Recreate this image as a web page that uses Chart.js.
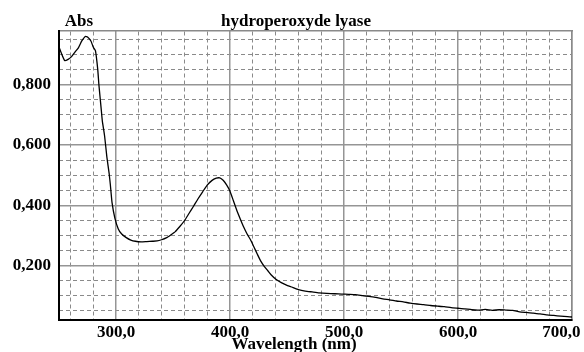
<!DOCTYPE html>
<html>
<head>
<meta charset="utf-8">
<script src="https://cdn.jsdelivr.net/npm/chart.js@4/dist/chart.umd.min.js"></script>
<style>
  html, body { margin: 0; padding: 0; background: #fff; }
  #wrap { width: 584px; height: 352px; }
</style>
</head>
<body>
<div id="wrap"><canvas id="spectrum" width="584" height="352"></canvas></div>
<script>
const chartTitle = 'hydroperoxyde lyase';
const yTitle = 'Abs';
const xTitle = 'Wavelength (nm)';

// wavelength (nm) / absorbance
const wavelengths = [
  250, 252, 255, 258, 261, 264, 267, 270, 273, 275, 278, 280, 282, 284, 285, 287, 288, 290,
  292, 294, 295, 296.5, 299, 302, 305, 309, 313, 317, 322, 327, 332, 336, 340, 344, 348,
  352, 356, 360, 364, 368, 372, 376, 380, 384, 388, 391, 394, 397, 400, 403, 406, 409,
  412, 415, 418, 421, 424, 427, 430, 433, 436, 440, 445, 450, 455, 460, 466, 472, 478,
  485, 492, 498, 504, 510, 516, 522, 528, 534, 540, 546, 552, 558, 564, 570, 576, 582,
  588, 594, 600, 606, 612, 618, 624, 630, 636, 642, 648, 654, 660, 666, 672, 678, 684,
  690, 696, 700
];
const absorbance = [
  0.925, 0.905, 0.880, 0.884, 0.893, 0.908, 0.922, 0.945, 0.960, 0.958, 0.945, 0.925, 0.912, 0.850, 0.800, 0.720, 0.680, 0.630,
  0.560, 0.505, 0.470, 0.410, 0.358, 0.322, 0.305, 0.293, 0.285, 0.281, 0.279, 0.280, 0.281, 0.282, 0.286, 0.292, 0.302,
  0.313, 0.330, 0.349, 0.373, 0.397, 0.422, 0.445, 0.467, 0.482, 0.490, 0.491, 0.483, 0.468, 0.447, 0.415, 0.383, 0.355,
  0.328, 0.305, 0.286, 0.262, 0.238, 0.215, 0.198, 0.184, 0.170, 0.156, 0.144, 0.135, 0.128, 0.121, 0.116, 0.113, 0.110,
  0.108, 0.107, 0.106, 0.105, 0.104, 0.101, 0.098, 0.095, 0.090, 0.087, 0.083, 0.080, 0.076, 0.073, 0.071, 0.068, 0.066,
  0.064, 0.061, 0.059, 0.057, 0.054, 0.053, 0.055, 0.052, 0.054, 0.053, 0.052, 0.047, 0.045, 0.043, 0.040, 0.037, 0.035,
  0.033, 0.031, 0.030
];

const xMajor = [300, 400, 500, 600, 700];
const xMinor = [260, 280, 320, 340, 360, 380, 420, 440, 460, 480, 520, 540, 560, 580, 620, 640, 660, 680];
const yMajor = [0.2, 0.4, 0.6, 0.8];
const yMinor = [0.05, 0.1, 0.15, 0.25, 0.3, 0.35, 0.45, 0.5, 0.55, 0.65, 0.7, 0.75, 0.85, 0.9, 0.95];

const labelFont = { family: '"Liberation Serif", "Times New Roman", serif', size: 17, weight: 'bold' };

function setTicks(list) {
    return function (scale) {
        scale.ticks = list.map(v => ({ value: v }));
    };
}

function minorAxis(position, list, min, max) {
    return {
        type: 'linear',
        position: position,
        min: min,
        max: max,
        afterBuildTicks: setTicks(list),
        afterFit: function (scale) {
            if (scale.isHorizontal()) { scale.height = 0; } else { scale.width = 0; }
            scale.paddingLeft = scale.paddingRight = scale.paddingTop = scale.paddingBottom = 0;
        },
        ticks: { display: false },
        grid: { color: '#8a8a8a', lineWidth: 1, drawTicks: false },
        border: { display: true, color: '#8a8a8a', width: 1.5, dash: [4, 3] }
    };
}

const textPlugin = {
    id: 'textPlugin',
    afterDraw(chart) {
        const ctx = chart.ctx;
        const area = chart.chartArea;
        ctx.save();
        ctx.fillStyle = '#000';
        ctx.font = 'bold 17px "Liberation Serif", serif';
        ctx.textAlign = 'center';
        ctx.textBaseline = 'alphabetic';
        ctx.fillText(yTitle, area.left + 20, 26);
        ctx.fillText(chartTitle, 296, 26);
        ctx.fillText(xTitle, 294, 349);
        ctx.restore();
    }
};

function drawSpectrum() {
    const ctx = document.getElementById('spectrum').getContext('2d');
    const points = wavelengths.map((w, i) => ({ x: w, y: absorbance[i] }));
    new Chart(ctx, {
        type: 'line',
        data: {
            datasets: [{
                data: points,
                borderColor: '#000',
                borderWidth: 1.3,
                pointRadius: 0,
                tension: 0.15,
                fill: false
            }]
        },
        options: {
            responsive: false,
            devicePixelRatio: 1,
            animation: false,
            layout: { padding: { left: 0, right: 12, top: 31, bottom: 0 } },
            plugins: { legend: { display: false }, tooltip: { enabled: false }, title: { display: false } },
            scales: {
                x2: minorAxis('top', xMinor, 250, 700),
                y2: minorAxis('right', yMinor, 0.02, 0.978),
                x: {
                    type: 'linear',
                    position: 'bottom',
                    min: 250,
                    max: 700,
                    afterBuildTicks: setTicks(xMajor),
                    afterFit: function (scale) {
                        scale.height = 32;
                        scale.paddingLeft = 0;
                        scale.paddingRight = 0;
                    },
                    ticks: {
                        font: labelFont,
                        color: '#000',
                        padding: 2,
                        maxRotation: 0,
                        autoSkip: false,
                        callback: v => v === 700 ? '700,0     ' : v.toFixed(1).replace('.', ',')
                    },
                    grid: { color: '#959595', lineWidth: 1.5, drawTicks: false },
                    border: { color: '#000', width: 2 }
                },
                y: {
                    type: 'linear',
                    position: 'left',
                    min: 0.02,
                    max: 0.978,
                    afterBuildTicks: setTicks(yMajor),
                    afterFit: function (scale) {
                        scale.width = 59;
                        scale.paddingTop = 0;
                        scale.paddingBottom = 0;
                    },
                    ticks: {
                        font: labelFont,
                        color: '#000',
                        padding: 8,
                        autoSkip: false,
                        callback: v => v.toFixed(3).replace('.', ',')
                    },
                    grid: { color: '#959595', lineWidth: 1.5, drawTicks: false },
                    border: { color: '#000', width: 2 }
                }
            }
        },
        plugins: [textPlugin]
    });
}

drawSpectrum();
</script>
</body>
</html>
